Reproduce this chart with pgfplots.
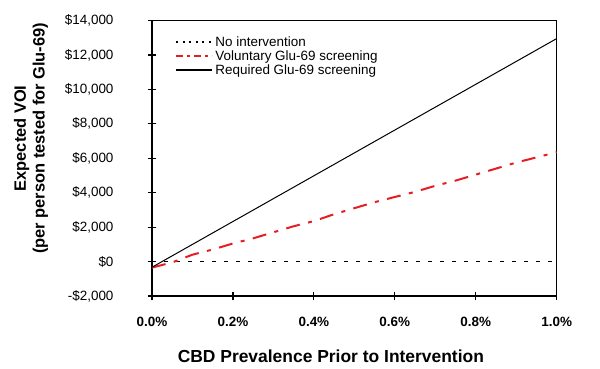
\documentclass[border=0pt]{standalone}
\usepackage{pgfplots}
\pgfplotsset{compat=1.18}
\usepackage{fontspec}
\setmainfont{Liberation Sans}
\definecolor{vred}{RGB}{230,30,36}
\begin{document}
\begin{tikzpicture}
\path[use as bounding box] (0,0) rectangle (600bp,369bp);
\begin{axis}[
  at={(152bp,73bp)}, anchor=south west,
  width=404.7bp, height=275.5bp, scale only axis,
  xmin=0, xmax=1, ymin=-2000, ymax=14000,
  scaled ticks=false,
  xtick={0,0.2,0.4,0.6,0.8,1.0},
  xticklabels={\textbf{0.0\%},\textbf{0.2\%},\textbf{0.4\%},\textbf{0.6\%},\textbf{0.8\%},\textbf{1.0\%}},
  ytick={-2000,0,2000,4000,6000,8000,10000,12000,14000},
  yticklabels={{-\$2,000},{\$0},{\$2,000},{\$4,000},{\$6,000},{\$8,000},{\$10,000},{\$12,000},{\$14,000}},
  xtick pos=bottom, ytick pos=left,
  tick align=center, major tick length=8bp,
  tick style={black, line width=1.2bp},
  axis line style={black, line width=1.2bp},
  ticklabel style={font=\fontsize{13.5}{15}\selectfont},
  yticklabel style={xshift=-31bp},
  xticklabel style={yshift=-14bp},
  xlabel={\textbf{CBD Prevalence Prior to Intervention}},
  xlabel style={font=\fontsize{17.5}{20}\selectfont, at={(axis description cs:0.442,-0.217)}, anchor=center},
  ylabel={\textbf{Expected VOI}\\\textbf{(per person tested for Glu-69)}},
  ylabel style={font=\fontsize{16.5}{19}\selectfont, align=center, at={(axis description cs:-0.299,0.572)}, anchor=center},
  legend style={at={(axis description cs:0.05,0.958)}, anchor=north west, draw=none, fill=none,
    font=\fontsize{13.5}{14}\selectfont, row sep=-1bp, nodes={inner sep=2bp}},
  legend cell align=left,
  legend image code/.code={\draw[#1] (0bp,0bp) -- (36bp,0bp);},
  clip=false,
]
\addplot[black, line width=1.8bp, dash pattern=on 3.5bp off 8.5bp, legend image post style={dash pattern=on 2bp off 4.5bp}] coordinates {(0,0) (1,0)};
\addlegendentry{No intervention}
\addplot[vred, line width=2bp, dash pattern=on 14bp off 8.5bp on 4bp off 8.5bp, legend image post style={dash pattern=on 7bp off 4bp on 3bp off 4bp}] coordinates {
(0,-350) (0.05,-50) (0.1,400) (0.15,700) (0.2,1050) (0.25,1350) (0.3,1700) (0.35,2050)
(0.4,2350) (0.45,2750) (0.5,3100) (0.55,3450) (0.6,3750) (0.65,4050) (0.7,4400)
(0.75,4700) (0.8,5050) (0.85,5400) (0.9,5750) (0.95,6050) (1.0,6350)};
\addlegendentry{Voluntary Glu-69 screening}
\addplot[black, line width=1bp, legend image post style={line width=2bp}] coordinates {(0,-330) (1,12950)};
\addlegendentry{Required Glu-69 screening}
\end{axis}
\end{tikzpicture}
\end{document}
